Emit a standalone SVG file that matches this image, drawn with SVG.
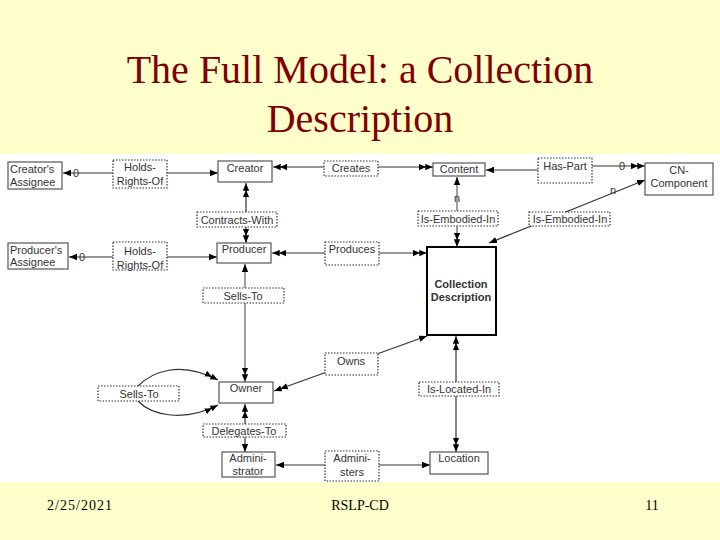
<svg xmlns="http://www.w3.org/2000/svg" width="720" height="540" viewBox="0 0 720 540">
<defs>
<style>
.t{font-family:"Liberation Sans",Arial,sans-serif;font-size:11px;fill:#333}
.m{text-anchor:middle}
.n{fill:#fff;stroke:#555;stroke-width:1.2}
.l{fill:#fff;stroke:#333;stroke-width:1.2;stroke-dasharray:1.5 1.5}
.c{fill:none;stroke:#333;stroke-width:1.2}
.g{fill:none;stroke:#777;stroke-width:1.4}
.f{font-family:"Liberation Serif","Times New Roman",serif;font-size:14px;fill:#000;text-anchor:middle}
</style>
<marker id="s" viewBox="0 0 10 10" refX="10" refY="5" markerWidth="8" markerHeight="8" markerUnits="userSpaceOnUse" orient="auto-start-reverse"><path d="M0,1 L10,5 L0,9 z" fill="#000"/></marker>
<marker id="d" viewBox="0 0 20 10" refX="20" refY="5" markerWidth="14" markerHeight="7" markerUnits="userSpaceOnUse" orient="auto-start-reverse"><path d="M0,0.5 L10,5 L0,9.5 z M9,0.5 L19.5,5 L9,9.5 z" fill="#000"/></marker>
</defs>
<rect width="720" height="540" fill="#FFFFCC"/>
<text x="360" y="83" text-anchor="middle" font-family="'Liberation Serif','Times New Roman',serif" font-size="40" fill="#800000">The Full Model: a Collection</text>
<text x="360" y="132" text-anchor="middle" font-family="'Liberation Serif','Times New Roman',serif" font-size="40" fill="#800000">Description</text>
<rect x="0" y="154" width="720" height="328" fill="#fff"/>

<g id="connectors">
<line class="c" x1="63" y1="173" x2="218" y2="173" marker-start="url(#s)" marker-end="url(#s)"/>
<line class="c" x1="273" y1="167" x2="433" y2="167" marker-start="url(#d)" marker-end="url(#d)"/>
<line class="c" x1="538" y1="170" x2="486" y2="170" marker-end="url(#s)"/>
<line class="c" x1="592" y1="166" x2="645" y2="166" marker-end="url(#d)"/>
<line class="c" x1="246" y1="183" x2="246" y2="243" marker-start="url(#d)" marker-end="url(#d)"/>
<line class="g" x1="457" y1="177" x2="457" y2="247" marker-start="url(#s)" marker-end="url(#d)"/>
<line class="c" x1="489" y1="243" x2="645" y2="180" marker-start="url(#s)" marker-end="url(#s)"/>
<line class="c" x1="69" y1="257" x2="217" y2="257" marker-start="url(#s)" marker-end="url(#s)"/>
<line class="c" x1="272" y1="253" x2="427" y2="253" marker-start="url(#d)" marker-end="url(#d)"/>
<line class="g" x1="245" y1="264" x2="245" y2="382" marker-start="url(#s)" marker-end="url(#d)"/>
<line class="c" x1="274" y1="391" x2="427" y2="336" marker-start="url(#d)" marker-end="url(#s)"/>
<path class="c" d="M138,386 C152,372 180,360 218,380" marker-end="url(#d)"/>
<path class="c" d="M138,401 C152,416 185,422 218,405" marker-end="url(#d)"/>
<line class="c" x1="456" y1="336" x2="456" y2="452" marker-start="url(#d)" marker-end="url(#d)"/>
<line class="c" x1="245" y1="404" x2="245" y2="452" marker-start="url(#d)" marker-end="url(#s)"/>
<line class="g" x1="276" y1="465" x2="430" y2="465" marker-start="url(#s)" marker-end="url(#s)"/>
<text class="t m" x="76" y="177" font-size="10">0</text>
<text class="t m" x="82" y="261" font-size="10">0</text>
<text class="t m" x="622" y="170" font-size="10">0</text>
<text class="t m" x="457" y="202" font-size="10">n</text>
<text class="t m" x="613" y="194" font-size="10">n</text>
</g>

<g id="creators-assignee"><rect class="n" x="8" y="162" width="54" height="27"/><text class="t" x="10" y="173">Creator's</text><text class="t" x="10" y="186">Assignee</text></g>
<g id="holds-rights-of-1"><rect class="l" x="113" y="160" width="54" height="28"/><text class="t m" x="140" y="171">Holds-</text><text class="t m" x="140" y="185">Rights-Of</text></g>
<g id="creator"><rect class="n" x="218" y="161" width="54" height="21"/><text class="t m" x="245" y="172">Creator</text></g>
<g id="creates"><rect class="l" x="324" y="161" width="54" height="15"/><text class="t m" x="351" y="172">Creates</text></g>
<g id="content"><rect class="n" x="433" y="163" width="52" height="13"/><text class="t m" x="459" y="173">Content</text></g>
<g id="has-part"><rect class="l" x="538" y="158" width="54" height="25"/><text class="t m" x="565" y="170">Has-Part</text></g>
<g id="cn-component"><rect class="n" x="645" y="163" width="68" height="32"/><text class="t m" x="679" y="174">CN-</text><text class="t m" x="679" y="187">Component</text></g>
<g id="contracts-with"><rect class="l" x="197" y="212" width="80" height="15"/><text class="t m" x="237" y="224">Contracts-With</text></g>
<g id="is-embodied-in-1"><rect class="l" x="418" y="211" width="80" height="15"/><text class="t m" x="458" y="223">Is-Embodied-In</text></g>
<g id="is-embodied-in-2"><rect class="l" x="529" y="212" width="81" height="14"/><text class="t m" x="570" y="223">Is-Embodied-In</text></g>
<g id="producers-assignee"><rect class="n" x="8" y="243" width="60" height="26"/><text class="t" x="10" y="254">Producer's</text><text class="t" x="10" y="266">Assignee</text></g>
<g id="holds-rights-of-2"><rect class="l" x="113" y="242" width="54" height="28"/><text class="t m" x="140" y="255">Holds-</text><text class="t m" x="140" y="269">Rights-Of</text></g>
<g id="producer"><rect class="n" x="217" y="243" width="54" height="20"/><text class="t m" x="244" y="253">Producer</text></g>
<g id="produces"><rect class="l" x="325" y="242" width="54" height="23"/><text class="t m" x="352" y="253">Produces</text></g>
<g id="collection-description"><rect x="427" y="247" width="69" height="88" fill="#fff" stroke="#000" stroke-width="2"/><text class="t m" x="461" y="288" font-weight="bold" font-size="10.5">Collection</text><text class="t m" x="461" y="301" font-weight="bold" font-size="10.5">Description</text></g>
<g id="sells-to-1"><rect class="l" x="203" y="288" width="81" height="15"/><text class="t m" x="243" y="300">Sells-To</text></g>
<g id="owns"><rect class="l" x="325" y="353" width="53" height="22"/><text class="t m" x="351" y="365">Owns</text></g>
<g id="owner"><rect class="n" x="219" y="382" width="54" height="21"/><text class="t m" x="246" y="392">Owner</text></g>
<g id="sells-to-2"><rect class="l" x="98" y="386" width="81" height="15"/><text class="t m" x="139" y="398">Sells-To</text></g>
<g id="is-located-in"><rect class="l" x="419" y="382" width="80" height="14"/><text class="t m" x="459" y="393">Is-Located-In</text></g>
<g id="delegates-to"><rect class="l" x="203" y="424" width="83" height="13"/><text class="t m" x="244" y="435">Delegates-To</text></g>
<g id="administrator"><rect class="n" x="222" y="452" width="53" height="25"/><text class="t m" x="248" y="462">Admini-</text><text class="t m" x="248" y="475">strator</text></g>
<g id="administers"><rect class="l" x="325" y="451" width="54" height="30"/><text class="t m" x="352" y="462">Admini-</text><text class="t m" x="352" y="476">sters</text></g>
<g id="location"><rect class="n" x="430" y="452" width="58" height="22"/><text class="t m" x="459" y="462">Location</text></g>

<text class="f" x="80" y="510" font-size="15" letter-spacing="1">2/25/2021</text>
<text class="f" x="360" y="510">RSLP-CD</text>
<text class="f" x="652" y="510">11</text>
</svg>
